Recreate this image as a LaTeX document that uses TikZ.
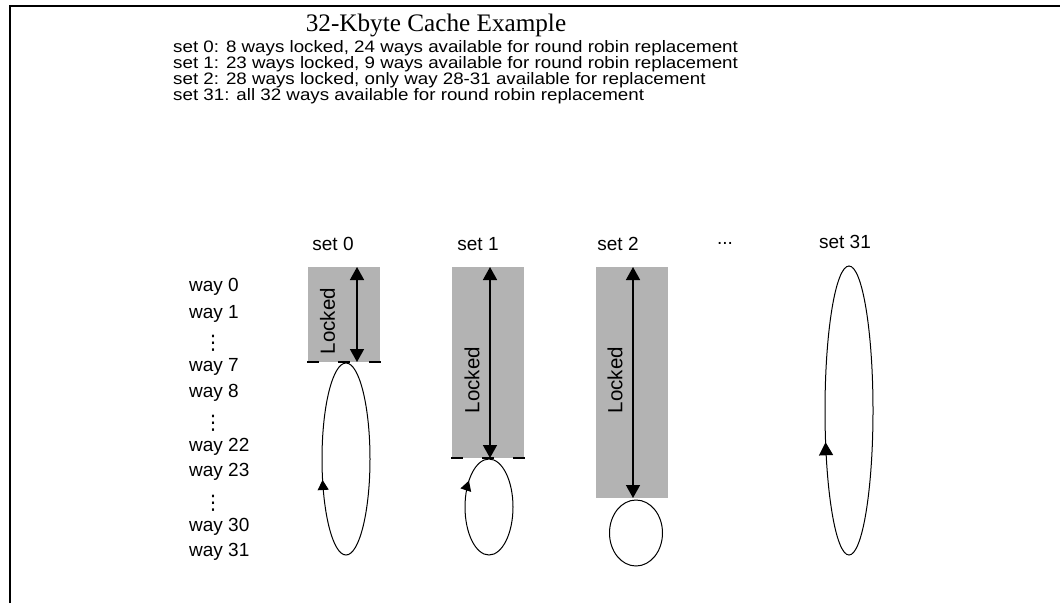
\documentclass[tikz,border=0pt]{standalone}
\usepackage{fontspec}
\setmainfont{Liberation Sans}
\newfontfamily\titlefont{Liberation Serif}
\newfontfamily\notefont[FakeStretch=1.13]{Liberation Sans}
\newfontfamily\symfont{DejaVu Sans}
\usetikzlibrary{arrows.meta,decorations.markings}
\definecolor{lockgray}{HTML}{B3B3B3}
\begin{document}
\begin{tikzpicture}[x=1pt,y=-1pt,
  txt/.style={inner sep=0, font=\fontsize{19}{19}\selectfont},
  note/.style={inner sep=0, anchor=base west, font=\notefont\fontsize{16.6}{16.6}\selectfont},
  waylbl/.style={txt, anchor=base west},
  setlbl/.style={txt, anchor=base},
  vdot/.style={inner sep=0, font=\symfont\fontsize{20}{20}\selectfont},
  locklbl/.style={inner sep=0, rotate=90, font=\fontsize{20.5}{20.5}\selectfont},
  lockbox/.style={fill=lockgray, draw=none},
  lockarrow/.style={line width=1.5, {Triangle[length=13,width=14]}-{Triangle[length=13,width=14]}},
  lockline/.style={line width=2, dash pattern=on 12 off 19},
  ring/.style={line width=1},
  ringarrow/.style 2 args={postaction=decorate, decoration={markings, mark=at position #1 with {\arrow{Triangle[length=#2,width=#2+1]}}}},
  frame/.style={line width=2}
]
\useasboundingbox (0,0) rectangle (1060,603);
\draw[frame] (10,603) -- (10,5.7) -- (1060,5.7);

% title and notes
\node[inner sep=0, font=\titlefont\fontsize{25.2}{25.2}\selectfont] (title) at (436,25) {32-Kbyte Cache Example};
\node[note] (n0) at (173,52) {set 0: 8 ways locked, 24 ways available for round robin replacement};
\node[note] (n1) at (173,68.3) {set 1: 23 ways locked, 9 ways available for round robin replacement};
\node[note] (n2) at (173,84.6) {set 2: 28 ways locked, only way 28-31 available for replacement};
\node[note] (n3) at (173,100.9) {set 31: all 32 ways available for round robin replacement};

% way labels
\node[waylbl] (w0) at (189,291.5) {way 0};
\node[waylbl] (w1) at (189,318) {way 1};
\node[vdot] (d1) at (213,343) {⋮};
\node[waylbl] (w7) at (189,371) {way 7};
\node[waylbl] (w8) at (189,397) {way 8};
\node[vdot] (d2) at (213,423) {⋮};
\node[waylbl] (w22) at (189,451) {way 22};
\node[waylbl] (w23) at (189,476) {way 23};
\node[vdot] (d3) at (213,503) {⋮};
\node[waylbl] (w30) at (189,531) {way 30};
\node[waylbl] (w31) at (189,556) {way 31};

% set labels
\node[setlbl] (s0) at (333,250.5) {set 0};
\node[setlbl] (s1) at (478,250.5) {set 1};
\node[setlbl] (s2) at (618,250.5) {set 2};
\node[setlbl] (sd) at (725,244) {...};
\node[setlbl] (s31) at (845,248.5) {set 31};

% set 0
\fill[lockbox] (308,267) rectangle (380,362);
\coordinate (a0t) at (357,267); \coordinate (a0b) at (357,362);
\draw[lockarrow] (a0t) -- (a0b);
\node[locklbl] (l0) at (327.5,321) {Locked};
\coordinate (d0l) at (307,362); \coordinate (d0r) at (381,362);
\draw[lockline] (d0l) -- (d0r);
\draw[ring, ringarrow={0.449}{10}] (346,459) ellipse [x radius=24, y radius=96];

% set 1
\fill[lockbox] (452,267) rectangle (524,458);
\coordinate (a1t) at (490,267); \coordinate (a1b) at (490,458);
\draw[lockarrow] (a1t) -- (a1b);
\node[locklbl] (l1) at (472,380) {Locked};
\coordinate (d1l) at (451,458); \coordinate (d1r) at (525,458);
\draw[lockline] (d1l) -- (d1r);
\draw[ring, ringarrow={0.615}{10}] (489,507) ellipse [x radius=24, y radius=48];

% set 2
\fill[lockbox] (596,267) rectangle (668,498);
\coordinate (a2t) at (633,267); \coordinate (a2b) at (633,498);
\draw[lockarrow] (a2t) -- (a2b);
\node[locklbl] (l2) at (615,380) {Locked};
\draw[ring] (636,533) ellipse [x radius=26.5, y radius=33];

% set 31
\draw[ring, ringarrow={0.447}{13}] (849,410.5) ellipse [x radius=24, y radius=144.5];
\end{tikzpicture}
\end{document}
